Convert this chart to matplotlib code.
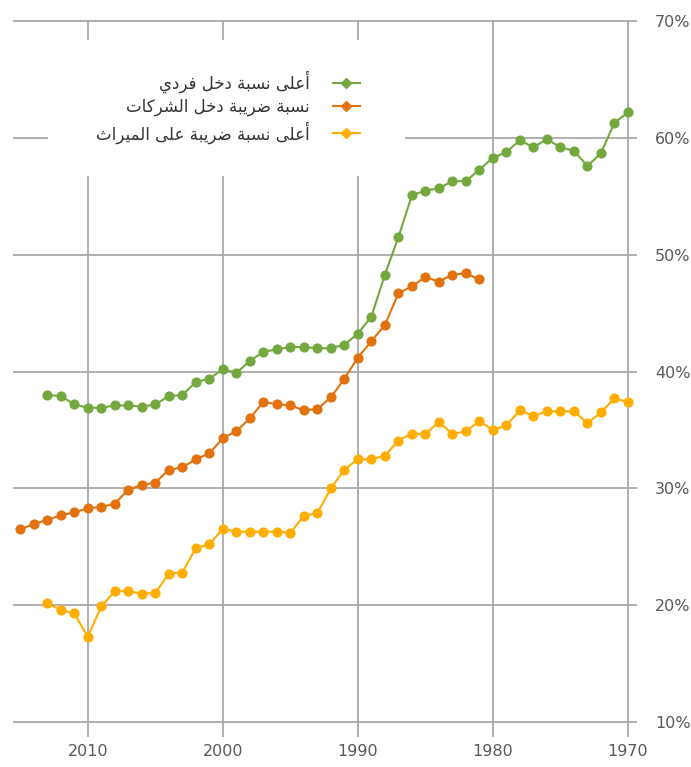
import matplotlib
matplotlib.use('Agg')
import matplotlib.pyplot as plt
from matplotlib.lines import Line2D
from matplotlib.patches import Rectangle

# data (years run from right to left)
years_green = list(range(2013, 1969, -1))
green_values = [38.0, 37.9, 37.2, 36.9, 36.9, 37.1, 37.1, 37.0, 37.2, 37.9,
                38.0, 39.1, 39.4, 40.2, 39.9, 40.9, 41.7, 41.9, 42.1, 42.1,
                42.0, 42.0, 42.3, 43.25, 44.7, 48.3, 51.5, 55.1, 55.5, 55.7,
                56.3, 56.3, 57.3, 58.3, 58.8, 59.8, 59.2, 59.9, 59.2, 58.9,
                57.6, 58.7, 61.3, 62.2]

years_orange = list(range(2015, 1980, -1))
orange_values = [26.5, 26.95, 27.3, 27.7, 27.95, 28.3, 28.4, 28.7, 29.9, 30.3,
                 30.5, 31.6, 31.8, 32.5, 33.0, 34.3, 34.9, 36.0, 37.4, 37.2,
                 37.1, 36.7, 36.8, 37.8, 39.4, 41.2, 42.6, 44.0, 46.7, 47.3,
                 48.1, 47.7, 48.3, 48.4, 47.9]

years_yellow = list(range(2013, 1969, -1))
yellow_values = [20.2, 19.6, 19.3, 17.3, 19.9, 21.2, 21.2, 21.0, 21.05, 22.7,
                 22.8, 24.9, 25.2, 26.55, 26.3, 26.3, 26.3, 26.3, 26.2, 27.65,
                 27.9, 30.0, 31.6, 32.5, 32.5, 32.8, 34.1, 34.7, 34.65, 35.7,
                 34.65, 34.9, 35.75, 35.0, 35.4, 36.7, 36.2, 36.6, 36.6, 36.6,
                 35.6, 36.5, 37.7, 37.4]

labels = ['أعلى نسبة دخل فردي', 'نسبة ضريبة دخل الشركات', 'أعلى نسبة ضريبة على الميراث']
colors = ['#74A83E', '#E2720E', '#FFAD00']

x_ticks = [2010, 2000, 1990, 1980, 1970]
y_ticks = [10, 20, 30, 40, 50, 60, 70]


# matplotlib has no arabic shaping, so map letters to presentation forms
FORMS = {
    'ا': ('\uFE8D', '\uFE8E', None, None),
    'أ': ('\uFE83', '\uFE84', None, None),
    'ب': ('\uFE8F', '\uFE90', '\uFE91', '\uFE92'),
    'ة': ('\uFE93', '\uFE94', None, None),
    'ت': ('\uFE95', '\uFE96', '\uFE97', '\uFE98'),
    'ث': ('\uFE99', '\uFE9A', '\uFE9B', '\uFE9C'),
    'خ': ('\uFEA5', '\uFEA6', '\uFEA7', '\uFEA8'),
    'د': ('\uFEA9', '\uFEAA', None, None),
    'ر': ('\uFEAD', '\uFEAE', None, None),
    'س': ('\uFEB1', '\uFEB2', '\uFEB3', '\uFEB4'),
    'ش': ('\uFEB5', '\uFEB6', '\uFEB7', '\uFEB8'),
    'ض': ('\uFEBD', '\uFEBE', '\uFEBF', '\uFEC0'),
    'ع': ('\uFEC9', '\uFECA', '\uFECB', '\uFECC'),
    'ف': ('\uFED1', '\uFED2', '\uFED3', '\uFED4'),
    'ك': ('\uFED9', '\uFEDA', '\uFEDB', '\uFEDC'),
    'ل': ('\uFEDD', '\uFEDE', '\uFEDF', '\uFEE0'),
    'م': ('\uFEE1', '\uFEE2', '\uFEE3', '\uFEE4'),
    'ن': ('\uFEE5', '\uFEE6', '\uFEE7', '\uFEE8'),
    'ى': ('\uFEEF', '\uFEF0', None, None),
    'ي': ('\uFEF1', '\uFEF2', '\uFEF3', '\uFEF4'),
}


def shape(text):
    out = []
    for i, ch in enumerate(text):
        if ch not in FORMS:
            out.append(ch)
            continue
        prev = text[i - 1] if i > 0 else ''
        nxt = text[i + 1] if i + 1 < len(text) else ''
        join_prev = prev in FORMS and FORMS[prev][2] is not None
        join_next = nxt in FORMS and FORMS[ch][2] is not None
        iso, fin, ini, med = FORMS[ch]
        if join_prev and join_next:
            out.append(med)
        elif join_prev:
            out.append(fin)
        elif join_next:
            out.append(ini)
        else:
            out.append(iso)
    return ''.join(out)[::-1]


fig = plt.figure(figsize=(6.91, 7.67), dpi=100)
ax = fig.add_axes([13 / 691, 1 - 737 / 767, 624 / 691, 717 / 767])

ax.plot(years_green, green_values, color=colors[0], lw=1.5, marker='o', ms=6.3, zorder=3)
ax.plot(years_orange, orange_values, color=colors[1], lw=1.5, marker='o', ms=6.3, zorder=3)
ax.plot(years_yellow, yellow_values, color=colors[2], lw=1.5, marker='o', ms=6.3, zorder=3)

ax.set_xlim(2015.54, 1969.33)
ax.set_ylim(8.72, 70.1)
ax.set_xticks(x_ticks)
ax.set_yticks(y_ticks)
ax.set_yticklabels([str(v) + '%' for v in y_ticks])
ax.yaxis.tick_right()
ax.tick_params(axis='both', length=0, labelsize=11.5, labelcolor='#595959')
ax.tick_params(axis='y', pad=13)
ax.tick_params(axis='x', pad=5)
ax.grid(True, color='#A9A9A9', lw=1.3)
ax.set_axisbelow(True)
for s in ax.spines.values():
    s.set_visible(False)

# white box behind the legend hides the grid there
ax.add_patch(Rectangle((48 / 691, 1 - 176 / 767), 357 / 691, 136 / 767,
                       transform=fig.transFigure, facecolor='white', edgecolor='none', zorder=1))

handles = [Line2D([], [], color=c, lw=1.5, marker='D', ms=5.5) for c in colors]
fig.legend(handles, [shape(t) for t in labels], loc='upper right',
           bbox_to_anchor=(368 / 691, 1 - 62 / 767), frameon=False, markerfirst=False,
           prop={'family': 'DejaVu Sans', 'size': 12}, labelcolor='#333333',
           handlelength=1.6, handletextpad=1.4, labelspacing=0.3, borderpad=0)

fig.savefig('out.png', dpi=100, facecolor='white')
